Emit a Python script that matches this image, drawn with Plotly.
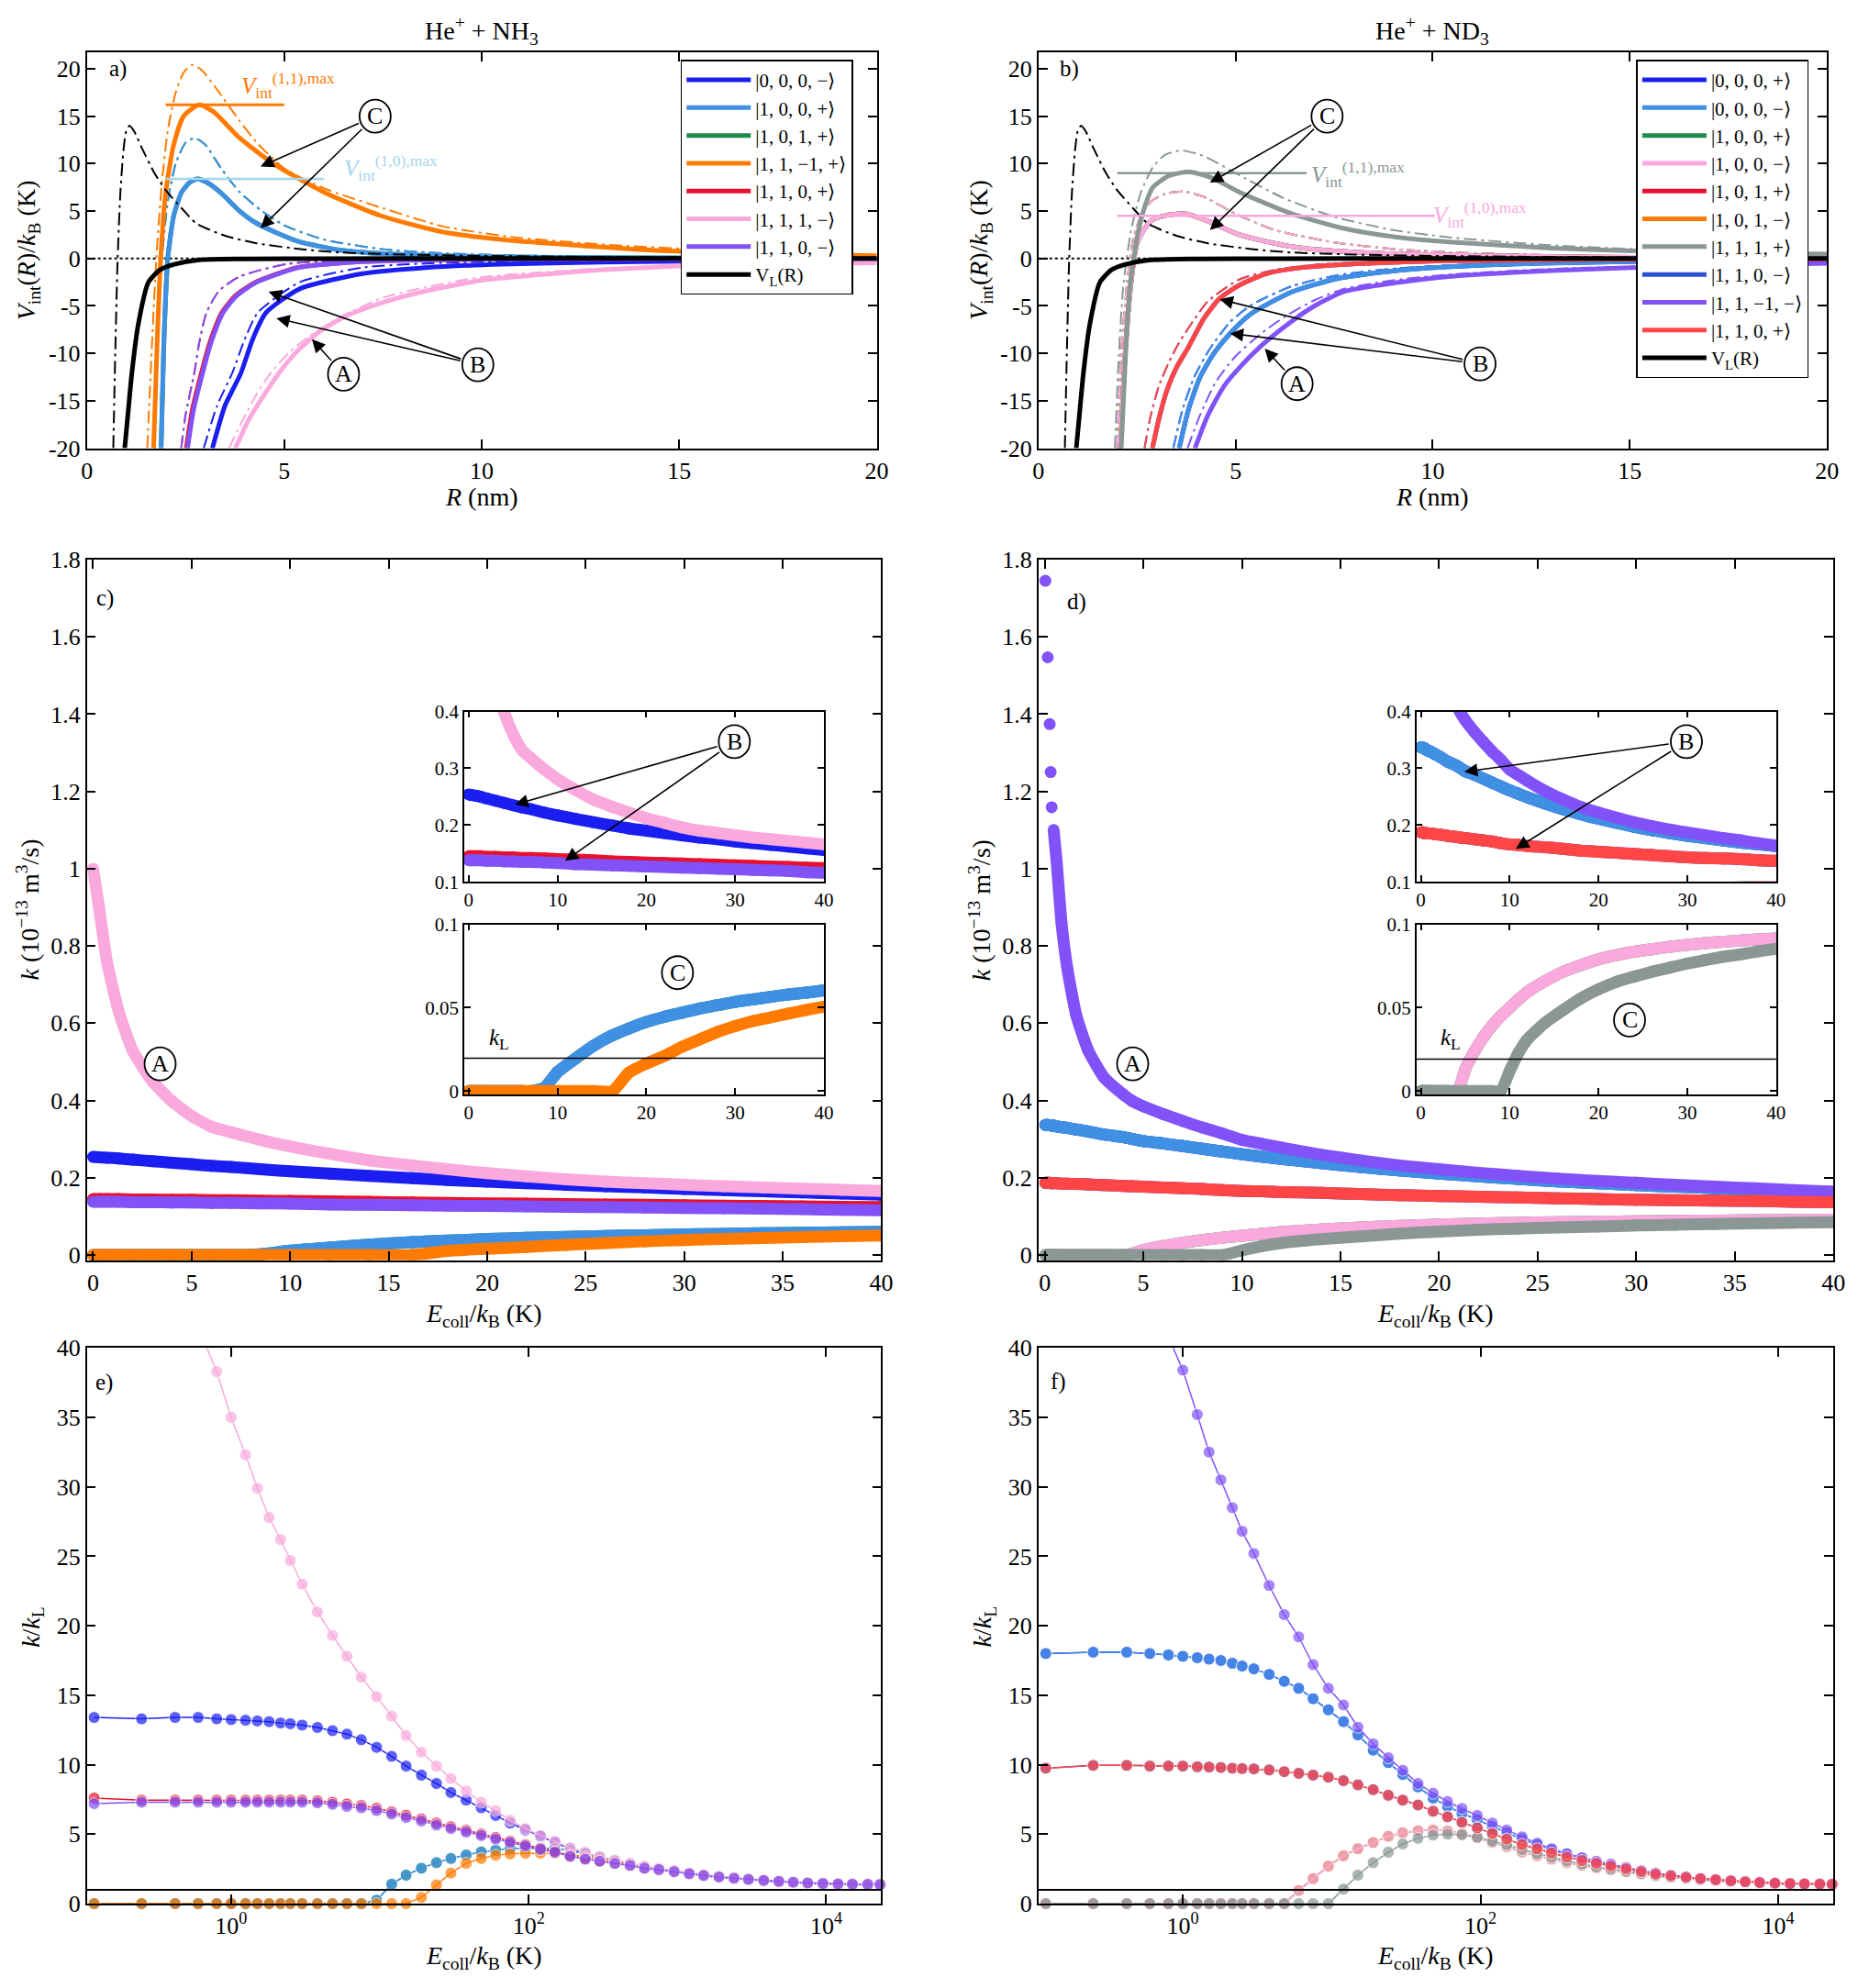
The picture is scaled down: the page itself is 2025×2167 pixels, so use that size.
import math
import plotly.graph_objects as go

W, H = 2025, 2167
SERIF = "Liberation Serif"

# ------------------------------------------------------------------
# (a) He+ + NH3 : V_int(R)/k_B (K) against R (nm); *_dd = dash-dot partner
# ------------------------------------------------------------------
VL_R = [0.96, 1.05, 1.14, 1.3, 1.56, 1.85, 2.19, 2.8, 4.0, 6.0, 10.0, 20.0]
VL_V = [-20, -16, -12.1, -7.0, -2.5, -1.2, -0.64, -0.16, -0.04, -0.01, 0.0, 0.0]
VLdd_R = [0.67, 0.72, 0.78, 0.85, 0.93, 1.0, 1.08, 1.2, 1.4, 1.7, 1.98, 2.4, 2.77, 3.5, 4.3,
          5.5, 6.4, 8.0, 10.0, 14.0, 20.0]
VLdd_V = [-20, -10, 0, 7, 11.5, 13.5, 14.0, 13.4, 11.6, 9.1, 7.3, 5.3, 3.7, 2.4, 1.6,
          0.95, 0.64, 0.42, 0.27, 0.14, 0.07]

a_blue_R = [3.18, 3.5, 3.9, 4.2, 4.54, 5.39, 6.98, 8.58, 10.5, 13, 16, 20]
a_blue_V = [-20, -15.5, -12.1, -8.5, -5.7, -3.2, -1.6, -0.96, -0.6, -0.38, -0.25, -0.18]
a_blue_dd_R = [2.96, 3.3, 3.68, 4.0, 4.33, 5.39, 6.98, 9, 12, 16, 20]
a_blue_dd_V = [-20, -15.5, -12.1, -8.5, -5.7, -2.5, -0.96, -0.45, -0.22, -0.12, -0.08]

a_lblue_R = [1.88, 1.95, 2.05, 2.2, 2.4, 2.6, 2.8, 3.05, 3.4, 3.87, 4.3, 5.35, 6.4, 7.5, 9, 11, 14, 20]
a_lblue_V = [-20, -9, 0, 4.5, 7.0, 8.0, 8.4, 8.0, 6.9, 5.0, 3.7, 1.8, 0.9, 0.5, 0.28, 0.15, 0.07, 0.03]
a_lblue_dd_R = [1.72, 1.8, 1.9, 2.05, 2.25, 2.5, 2.74, 3.0, 3.4, 3.87, 4.4, 5.0, 6.0, 7.45, 9, 11, 14, 20]
a_lblue_dd_V = [-20, -8, 0, 6, 10, 12.2, 12.7, 12.0, 9.5, 7.0, 5.1, 3.5, 2.0, 1.0, 0.55, 0.3, 0.15, 0.06]

a_orange_R = [1.69, 1.78, 1.87, 2.0, 2.2, 2.45, 2.84, 3.2, 3.87, 4.72, 6.0, 7.45, 9, 10.6, 12.5, 14.4, 17, 20]
a_orange_V = [-20, -9, 0, 7, 12, 15, 16.2, 15.5, 12.7, 10.0, 7.0, 4.5, 2.8, 1.95, 1.35, 0.85, 0.5, 0.3]
a_orange_dd_R = [1.53, 1.65, 1.76, 1.9, 2.05, 2.25, 2.45, 2.66, 2.9, 3.3, 3.87, 4.33, 5.0, 6.0, 7.5,
                 9, 10.7, 13, 16, 20]
a_orange_dd_V = [-20, -9, 0, 8, 13.5, 17.5, 19.6, 20.4, 19.9, 17.8, 14.5, 12.1, 9.5, 7.4, 5.3,
                 3.4, 2.3, 1.5, 0.85, 0.4]

a_purple_R = [2.55, 2.7, 2.93, 3.15, 3.45, 3.8, 4.3, 5.35, 6.5, 8, 10, 14, 20]
a_red_R = [2.52, 2.67, 2.9, 3.12, 3.42, 3.77, 4.27, 5.32, 6.47, 8, 10, 14, 20]
a_purple_V = [-20, -16, -12.1, -8.8, -5.7, -3.9, -2.5, -0.96, -0.45, -0.2, -0.08, -0.02, 0.0]
a_purple_dd_R = [2.39, 2.5, 2.72, 2.85, 3.03, 3.35, 3.87, 5.1, 7, 10, 20]
a_purple_dd_V = [-20, -16.5, -12.1, -8.8, -5.7, -3.4, -1.9, -0.55, -0.15, -0.05, 0.0]

a_pink_R = [3.76, 4.1, 4.5, 4.86, 5.3, 5.92, 6.6, 7.52, 8.5, 10, 11.5, 13, 15, 17.5, 20]
a_pink_V = [-20, -17, -14.3, -12.1, -9.9, -7.6, -6.0, -4.6, -3.5, -2.3, -1.7, -1.2, -0.8, -0.6, -0.45]
a_pink_dd_R = [3.6, 3.95, 4.3, 4.65, 5.1, 5.6, 6.4, 7.52, 8.5, 10, 11.5, 13, 15, 17.5, 20]
a_pink_dd_V = [-20, -17, -14.3, -12.1, -10, -8.3, -6.2, -4.1, -3.1, -1.95, -1.45, -1.05, -0.7, -0.5, -0.38]

a_vmax11 = 16.2   # V_int^(1,1),max
a_vmax10 = 8.4    # V_int^(1,0),max

# ------------------------------------------------------------------
# (b) He+ + ND3 potentials
# ------------------------------------------------------------------
b_gray_R = [2.1, 2.2, 2.32, 2.5, 2.7, 2.9, 3.3, 3.81, 4.4, 5.1, 6.4, 7.75, 9, 10.4, 13, 16, 20]
b_gray_V = [-20, -11, -3, 2.2, 5.5, 7.5, 8.7, 9.14, 8.5, 7.0, 4.76, 3.17, 2.3, 1.75, 1.1, 0.7, 0.45]
b_gray_dd_R = [1.94, 2.03, 2.15, 2.35, 2.6, 2.9, 3.2, 3.61, 4.2, 5.0, 6.2, 7.5, 9, 10.5, 13, 16, 20]
b_gray_dd_V = [-20, -11, -3, 3, 7, 9.6, 10.9, 11.4, 10.8, 9.0, 6.4, 4.4, 3.0, 2.2, 1.4, 0.85, 0.55]

b_pink_R = [2.08, 2.2, 2.35, 2.5, 2.7, 2.9, 3.3, 3.75, 4.3, 5.1, 6.4, 7.5, 9.1, 11, 14, 20]
b_pink_V = [-20, -10, -2.5, 1.6, 3.2, 4.1, 4.6, 4.7, 3.95, 2.5, 1.27, 0.8, 0.48, 0.3, 0.15, 0.06]
b_mid_dd_R = [2.0, 2.1, 2.25, 2.4, 2.6, 2.85, 3.2, 3.68, 4.2, 5.0, 6.0, 7.5, 9, 11, 14, 20]
b_mid_dd_V = [-20, -10, -2.5, 2.0, 4.5, 6.0, 6.8, 7.05, 6.5, 4.7, 3.0, 1.7, 1.0, 0.55, 0.28, 0.1]

b_red_R = [2.89, 3.05, 3.25, 3.5, 3.81, 4.2, 4.6, 5.1, 5.78, 6.6, 7.75, 10.4, 14, 20]
b_red_V = [-20, -17, -14, -11.5, -9.3, -6.3, -4.2, -2.8, -1.6, -1.0, -0.63, -0.25, -0.1, -0.04]
b_red_dd_R = [2.69, 2.85, 3.05, 3.3, 3.55, 3.81, 4.3, 5.1, 6.0, 7.1, 9, 12, 20]
b_red_dd_V = [-20, -16.5, -13.5, -11, -9, -7.3, -4.5, -2.2, -1.2, -0.63, -0.3, -0.12, -0.03]

b_lblue_R = [3.57, 3.8, 4.1, 4.45, 4.86, 5.4, 6.44, 7.6, 9.07, 11, 13, 16, 20]
b_lblue_V = [-20, -16, -12.5, -10, -7.9, -5.8, -3.5, -2.1, -1.27, -0.75, -0.48, -0.28, -0.17]
b_lblue_dd_R = [3.42, 3.65, 3.95, 4.35, 4.86, 5.4, 6.44, 7.6, 9.07, 11, 13, 16, 20]
b_lblue_dd_V = [-20, -16, -12.5, -9.5, -6.7, -4.9, -2.9, -1.75, -1.05, -0.62, -0.4, -0.23, -0.14]

b_purple_R = [3.97, 4.3, 4.7, 5.1, 5.65, 6.3, 7.0, 7.75, 9, 10.4, 13, 16, 20]
b_purple_V = [-20, -16.5, -13.5, -11.5, -9.2, -7.0, -5.0, -3.5, -2.6, -1.9, -1.27, -0.85, -0.5]
b_purple_dd_R = [3.78, 4.1, 4.5, 5.0, 5.65, 6.3, 7.0, 7.75, 9, 10.4, 13, 16, 20]
b_purple_dd_V = [-20, -16.5, -13, -10.3, -7.9, -6.0, -4.4, -3.2, -2.3, -1.7, -1.1, -0.75, -0.42]

b_vmax11 = 9.0
b_vmax10 = 4.5

# ------------------------------------------------------------------
# (c) NH3 rate coefficients k (1e-13 m^3/s) vs E_coll/k_B (K)
# ------------------------------------------------------------------
E_c = [0, 0.3, 0.7, 1.3, 2, 3, 4, 5, 6, 7,
       8.5, 10, 12, 14, 16.2, 18, 20, 22, 24, 26,
       28, 30, 32, 34, 36, 38, 40]
c_blue = [0.254, 0.253, 0.252, 0.25, 0.247, 0.243, 0.239, 0.235, 0.231, 0.228,
          0.222, 0.217, 0.211, 0.205, 0.199, 0.194, 0.19, 0.186, 0.182, 0.178,
          0.175, 0.171, 0.168, 0.165, 0.162, 0.159, 0.156]
c_lblue = [0, 0, 0, 0, 0, 0, 0, 0, 0, 0,
           0.002, 0.0115, 0.0195, 0.027, 0.0335, 0.0375, 0.0415, 0.0445, 0.047, 0.0495,
           0.0515, 0.0535, 0.055, 0.0565, 0.058, 0.059, 0.0604]
c_orange = [0, 0, 0, 0, 0, 0, 0, 0, 0, 0,
            0, 0, 0, 0, 0, 0.011, 0.0165, 0.021, 0.0265, 0.031,
            0.0355, 0.039, 0.042, 0.0442, 0.0465, 0.0487, 0.0506]
c_red = [0.145, 0.145, 0.145, 0.145, 0.144, 0.144, 0.143, 0.143, 0.142, 0.142,
         0.141, 0.14, 0.139, 0.138, 0.136, 0.135, 0.134, 0.133, 0.132, 0.131,
         0.13, 0.129, 0.128, 0.127, 0.126, 0.125, 0.124]
c_pink = [1.0, 0.9, 0.76, 0.63, 0.53, 0.45, 0.398, 0.36, 0.332, 0.318,
          0.298, 0.281, 0.262, 0.245, 0.232, 0.222, 0.212, 0.204, 0.196, 0.19,
          0.186, 0.182, 0.178, 0.175, 0.172, 0.169, 0.166]
c_purple = [0.138, 0.138, 0.138, 0.138, 0.137, 0.137, 0.136, 0.136, 0.135, 0.135,
            0.134, 0.133, 0.131, 0.13, 0.129, 0.128, 0.127, 0.126, 0.125, 0.124,
            0.123, 0.122, 0.121, 0.12, 0.119, 0.117, 0.116]
kL_c = 0.0197

# ------------------------------------------------------------------
# (d) ND3 rate coefficients
# ------------------------------------------------------------------
E_d = [0.03, 0.15, 0.25, 0.3, 0.35, 0.45, 0.6, 0.85, 1.15, 1.6,
       2.2, 3, 4, 4.4, 5, 6, 7, 8, 9, 10,
       11, 12, 14, 16, 18, 20, 22, 24, 26, 28,
       30, 32, 34, 36, 38, 40]
d_purple = [1.745, 1.547, 1.374, 1.25, 1.159, 1.1, 1.02, 0.86, 0.74, 0.62,
            0.53, 0.46, 0.415, 0.4, 0.385, 0.365, 0.347, 0.33, 0.315, 0.298,
            0.288, 0.278, 0.26, 0.245, 0.232, 0.222, 0.213, 0.205, 0.198, 0.192,
            0.187, 0.182, 0.177, 0.173, 0.168, 0.164]
d_lblue = [0.337, 0.337, 0.336, 0.336, 0.335, 0.335, 0.333, 0.331, 0.329, 0.325,
           0.32, 0.312, 0.305, 0.301, 0.295, 0.289, 0.282, 0.275, 0.268, 0.261,
           0.255, 0.249, 0.238, 0.228, 0.219, 0.211, 0.204, 0.197, 0.191, 0.186,
           0.181, 0.177, 0.173, 0.169, 0.166, 0.163]
d_red = [0.187, 0.187, 0.187, 0.186, 0.186, 0.186, 0.186, 0.185, 0.185, 0.184,
         0.183, 0.181, 0.179, 0.178, 0.177, 0.175, 0.173, 0.171, 0.168, 0.166,
         0.165, 0.163, 0.161, 0.158, 0.155, 0.153, 0.151, 0.149, 0.147, 0.145,
         0.143, 0.142, 0.141, 0.14, 0.138, 0.137]
d_pink = [0, 0, 0, 0, 0, 0, 0, 0, 0, 0,
          0, 0, 0, 0.003, 0.013, 0.0235, 0.032, 0.039, 0.045, 0.05,
          0.055, 0.0595, 0.066, 0.0715, 0.0755, 0.079, 0.0815, 0.0835, 0.085, 0.0865,
          0.0877, 0.0887, 0.0895, 0.0903, 0.091, 0.0915]
d_gray = [0, 0, 0, 0, 0, 0, 0, 0, 0, 0,
          0, 0, 0, 0, 0, 0, 0, 0, 0, 0.012,
          0.023, 0.031, 0.041, 0.0485, 0.0555, 0.061, 0.0655, 0.0686, 0.0715, 0.074,
          0.0765, 0.0785, 0.0805, 0.082, 0.0838, 0.0853]
kL_d = 0.0192

# ------------------------------------------------------------------
# (e), (f) k/k_L vs E_coll/k_B (K), log axis
# ------------------------------------------------------------------
E_ef = [0.12, 0.25, 0.42, 0.6, 0.8, 1.0, 1.25, 1.5, 1.8, 2.15,
        2.5, 3.0, 3.8, 4.8, 6.0, 7.5, 9.5, 12, 15, 19,
        24, 30, 38, 48, 60, 75, 95, 120, 150, 190,
        240, 300, 380, 480, 600, 750, 950, 1200, 1500, 1900,
        2400, 3000, 3800, 4800, 6000, 7500, 9500, 12000, 15000, 19000,
        23000]
e_blue = [13.4, 13.3, 13.4, 13.4, 13.3, 13.25, 13.2, 13.15, 13.1, 13.0,
          12.95, 12.85, 12.68, 12.45, 12.2, 11.8, 11.25, 10.6, 9.9, 9.25,
          8.65, 8.0, 7.45, 6.9, 6.35, 5.8, 5.3, 4.85, 4.4, 3.95,
          3.6, 3.3, 3.05, 2.85, 2.65, 2.5, 2.35, 2.15, 2.0, 1.9,
          1.8, 1.7, 1.63, 1.56, 1.5, 1.45, 1.41, 1.38, 1.36, 1.35,
          1.34]
e_lblue = [0, 0, 0, 0, 0, 0, 0, 0, 0, 0,
           0, 0, 0, 0, 0, 0, 0.25, 1.4, 2.05, 2.55,
           2.95, 3.25, 3.5, 3.72, 3.85, 3.95, 4.0, 4.0, 3.97, 3.82,
           3.6, 3.37, 3.12, 2.87, 2.65, 2.5, 2.35, 2.18, 2.04, 1.93,
           1.83, 1.74, 1.66, 1.59, 1.53, 1.48, 1.44, 1.41, 1.39, 1.37,
           1.36]
e_orange = [0, 0, 0, 0, 0, 0, 0, 0, 0, 0,
            0, 0, 0, 0, 0, 0, 0, 0, 0, 0.45,
            1.35, 2.2, 2.9, 3.25, 3.48, 3.58, 3.63, 3.64, 3.62, 3.52,
            3.4, 3.22, 3.05, 2.85, 2.6, 2.45, 2.3, 2.15, 2.03, 1.92,
            1.82, 1.73, 1.65, 1.58, 1.52, 1.47, 1.43, 1.4, 1.38, 1.37,
            1.36]
e_red = [7.6, 7.45, 7.45, 7.45, 7.45, 7.45, 7.45, 7.45, 7.45, 7.45,
         7.45, 7.45, 7.4, 7.3, 7.17, 7.06, 6.87, 6.6, 6.36, 6.1,
         5.8, 5.54, 5.28, 5.02, 4.77, 4.5, 4.25, 3.98, 3.76, 3.45,
         3.24, 3.08, 2.92, 2.77, 2.57, 2.46, 2.31, 2.16, 2.04, 1.93,
         1.84, 1.75, 1.67, 1.6, 1.54, 1.49, 1.45, 1.42, 1.4, 1.39,
         1.38]
e_pink = [None, None, None, 41.5, 38.3, 35.0, 32.3, 29.9, 27.8, 26.2,
          24.7, 23.0, 21.0, 19.3, 17.8, 16.3, 14.9, 13.5, 12.1, 10.9,
          9.9, 9.0, 8.1, 7.3, 6.7, 6.0, 5.4, 4.9, 4.5, 4.0,
          3.7, 3.35, 3.1, 2.9, 2.7, 2.55, 2.4, 2.2, 2.05, 1.95,
          1.85, 1.75, 1.67, 1.6, 1.53, 1.47, 1.43, 1.4, 1.38, 1.37,
          1.36]
e_purple = [7.2, 7.3, 7.3, 7.3, 7.3, 7.3, 7.3, 7.3, 7.3, 7.3,
            7.3, 7.3, 7.25, 7.15, 7.0, 6.9, 6.7, 6.45, 6.2, 5.95,
            5.65, 5.4, 5.15, 4.9, 4.65, 4.4, 4.15, 3.9, 3.7, 3.4,
            3.2, 3.05, 2.9, 2.75, 2.55, 2.45, 2.3, 2.15, 2.03, 1.92,
            1.83, 1.75, 1.67, 1.6, 1.54, 1.49, 1.45, 1.42, 1.4, 1.39,
            1.38]

f_lblue = [18.0, 18.1, 18.1, 18.0, 17.9, 17.8, 17.7, 17.6, 17.5, 17.3,
           17.1, 16.9, 16.5, 16.0, 15.5, 14.75, 13.95, 13.1, 12.15, 11.05,
           10.15, 9.3, 8.4, 7.6, 7.0, 6.5, 6.05, 5.55, 5.1, 4.65,
           4.25, 3.88, 3.55, 3.25, 3.0, 2.8, 2.57, 2.36, 2.19, 2.04,
           1.91, 1.8, 1.71, 1.63, 1.57, 1.51, 1.46, 1.43, 1.41, 1.4,
           1.39]
f_red = [9.75, 9.95, 9.95, 9.9, 9.9, 9.9, 9.85, 9.83, 9.8, 9.75,
         9.72, 9.7, 9.62, 9.5, 9.38, 9.25, 9.1, 8.85, 8.55, 8.2,
         7.8, 7.45, 7.1, 6.65, 6.25, 5.85, 5.45, 5.05, 4.65, 4.25,
         3.95, 3.65, 3.35, 3.1, 2.9, 2.7, 2.5, 2.3, 2.12, 2.0,
         1.9, 1.8, 1.72, 1.65, 1.58, 1.52, 1.48, 1.45, 1.43, 1.42,
         1.41]
f_pink = [0, 0, 0, 0, 0, 0, 0, 0, 0, 0,
          0, 0, 0, 0, 0.95, 1.8, 2.7, 3.45, 3.95, 4.4,
          4.85, 5.1, 5.25, 5.3, 5.23, 5.05, 4.75, 4.4, 4.1, 3.72,
          3.45, 3.2, 2.95, 2.75, 2.57, 2.42, 2.28, 2.12, 1.99, 1.88,
          1.79, 1.71, 1.64, 1.58, 1.52, 1.47, 1.43, 1.41, 1.39, 1.38,
          1.37]
f_gray = [0, 0, 0, 0, 0, 0, 0, 0, 0, 0,
          0, 0, 0, 0, 0, 0, 0, 1.05, 2.05, 2.95,
          3.7, 4.3, 4.7, 4.93, 5.0, 4.95, 4.78, 4.5, 4.25, 3.9,
          3.6, 3.35, 3.08, 2.85, 2.65, 2.5, 2.33, 2.17, 2.03, 1.92,
          1.82, 1.74, 1.66, 1.6, 1.54, 1.49, 1.45, 1.42, 1.4, 1.38,
          1.37]
f_purple = [None, None, None, None, 40.8, 38.4, 35.2, 32.5, 30.5, 28.5,
            26.8, 25.2, 22.9, 20.8, 19.2, 17.2, 15.5, 14.3, 12.7, 11.5,
            10.5, 9.6, 8.65, 7.95, 7.35, 6.85, 6.35, 5.8, 5.3, 4.8,
            4.35, 3.95, 3.6, 3.3, 3.05, 2.85, 2.6, 2.38, 2.2, 2.05,
            1.92, 1.8, 1.72, 1.64, 1.57, 1.52, 1.47, 1.43, 1.41, 1.4,
            1.39]
kL_ratio = 1.0

# colours
BLUE = "#1a1ef0"
BLUE2 = "#2a52d0"
LBLUE = "#3f90e2"
GREEN = "#1f8c4e"
ORANGE = "#ff7a00"
RED = "#e8112d"
LRED = "#ff4545"
PINK = "#f9a9dc"
PURPLE = "#8152f7"
GRAY = "#8a9795"
PALE = "#a5d5ef"
DD = "14px,5px,3px,5px"

AX = {"a": ("x", "y"), "b": ("x2", "y2"), "c": ("x3", "y3"), "d": ("x4", "y4"),
      "e": ("x5", "y5"), "f": ("x6", "y6"), "ct": ("x7", "y7"), "cb": ("x8", "y8"),
      "dt": ("x9", "y9"), "db": ("x10", "y10")}

fig = go.Figure()
shapes, annos = [], []


def curve(ax, x, y, color, width, dash=None, name=None, legend="legend", rank=1000):
    xa, ya = AX[ax]
    fig.add_trace(go.Scatter(
        x=x, y=y, mode="lines", xaxis=xa, yaxis=ya,
        line=dict(color=color, width=width, dash=dash, shape="spline", smoothing=0.6),
        name=name, showlegend=name is not None, legend=legend, legendrank=rank,
        hoverinfo="skip"))


def band(keys, x, y, color, start=0):
    # dense point series drawn as a thick band of dots
    for k in keys:
        xa, ya = AX[k]
        fig.add_trace(go.Scatter(
            x=x[start:], y=y[start:], mode="lines", xaxis=xa, yaxis=ya,
            line=dict(color=color, width=13, shape="spline", smoothing=0.5),
            showlegend=False, hoverinfo="skip"))
        fig.add_trace(go.Scatter(
            x=x, y=y, mode="markers", xaxis=xa, yaxis=ya,
            marker=dict(color=color, size=13), showlegend=False, hoverinfo="skip"))


def dots(ax, x, y, color):
    xa, ya = AX[ax]
    sizes = [0 if (v is None or v > 40) else 13 for v in y]
    fig.add_trace(go.Scatter(
        x=x, y=y, mode="lines+markers", xaxis=xa, yaxis=ya, cliponaxis=False,
        line=dict(color=color, width=1.5), marker=dict(color=color, size=sizes),
        showlegend=False, hoverinfo="skip"))


def circled(ax, x, y, letter, tips=()):
    xa, ya = AX[ax]
    shapes.append(dict(type="circle", xref=xa, yref=ya, xsizemode="pixel", ysizemode="pixel",
                       xanchor=x, yanchor=y, x0=-17, x1=17, y0=-18, y1=18,
                       line=dict(color="black", width=1.8), fillcolor="white", layer="above"))
    annos.append(dict(x=x, y=y, xref=xa, yref=ya, text=letter, showarrow=False,
                      xanchor="center", yanchor="middle",
                      font=dict(family=SERIF, size=26, color="black")))
    for tx, ty in tips:
        annos.append(dict(x=tx, y=ty, ax=x, ay=y, xref=xa, yref=ya, axref=xa, ayref=ya,
                          text="", showarrow=True, arrowhead=2, arrowsize=1.8,
                          arrowwidth=1.6, arrowcolor="black", startstandoff=18, standoff=0))


def label(ax, x, y, text, size=25, color="black"):
    xa, ya = AX[ax]
    annos.append(dict(x=x, y=y, xref=xa, yref=ya, text=text, showarrow=False,
                      xanchor="center", yanchor="middle",
                      font=dict(family=SERIF, size=size, color=color)))


# ---------------- panel a ----------------
a_states = [  # draw order; rank = legend position
    ("|1, 0, 1, +⟩", GREEN, a_lblue_R, a_lblue_V, a_lblue_dd_R, a_lblue_dd_V, 3),
    ("|0, 0, 0, −⟩", BLUE, a_blue_R, a_blue_V, a_blue_dd_R, a_blue_dd_V, 1),
    ("|1, 0, 0, +⟩", LBLUE, a_lblue_R, a_lblue_V, a_lblue_dd_R, a_lblue_dd_V, 2),
    ("|1, 1, −1, +⟩", ORANGE, a_orange_R, a_orange_V, a_orange_dd_R, a_orange_dd_V, 4),
    ("|1, 1, 0, +⟩", RED, a_red_R, a_purple_V, a_purple_dd_R, a_purple_dd_V, 5),
    ("|1, 1, 1, −⟩", PINK, a_pink_R, a_pink_V, a_pink_dd_R, a_pink_dd_V, 6),
    ("|1, 1, 0, −⟩", PURPLE, a_purple_R, a_purple_V, a_purple_dd_R, a_purple_dd_V, 7),
]
for name, col, r, v, rdd, vdd, rank in a_states:
    curve("a", rdd, vdd, col, 2, dash=DD)
    curve("a", r, v, col, 5, name=name, legend="legend", rank=rank)
curve("a", VLdd_R, VLdd_V, "black", 2, dash=DD)
curve("a", VL_R, VL_V, "black", 5, name="V<sub>L</sub>(R)", legend="legend", rank=8)

# ---------------- panel b ----------------
b_states = [
    ("|0, 0, 0, +⟩", BLUE, b_lblue_R, b_lblue_V, b_lblue_dd_R, b_lblue_dd_V, 1),
    ("|0, 0, 0, −⟩", LBLUE, b_lblue_R, b_lblue_V, b_lblue_dd_R, b_lblue_dd_V, 2),
    ("|1, 0, 1, +⟩", RED, b_pink_R, b_pink_V, b_mid_dd_R, b_mid_dd_V, 5),
    ("|1, 0, 1, −⟩", ORANGE, b_pink_R, b_pink_V, b_mid_dd_R, b_mid_dd_V, 6),
    ("|1, 0, 0, +⟩", GREEN, b_pink_R, b_pink_V, b_mid_dd_R, b_mid_dd_V, 3),
    ("|1, 0, 0, −⟩", PINK, b_pink_R, b_pink_V, b_mid_dd_R, b_mid_dd_V, 4),
    ("|1, 1, 1, +⟩", GRAY, b_gray_R, b_gray_V, b_gray_dd_R, b_gray_dd_V, 7),
    ("|1, 1, 0, −⟩", BLUE2, b_red_R, b_red_V, b_red_dd_R, b_red_dd_V, 8),
    ("|1, 1, −1, −⟩", PURPLE, b_purple_R, b_purple_V, b_purple_dd_R, b_purple_dd_V, 9),
    ("|1, 1, 0, +⟩", LRED, b_red_R, b_red_V, b_red_dd_R, b_red_dd_V, 10),
]
for name, col, r, v, rdd, vdd, rank in b_states:
    curve("b", rdd, vdd, col, 2, dash=DD)
for name, col, r, v, rdd, vdd, rank in b_states:
    curve("b", r, v, col, 5, name=name, legend="legend2", rank=rank)
curve("b", VLdd_R, VLdd_V, "black", 2, dash=DD)
curve("b", VL_R, VL_V, "black", 5, name="V<sub>L</sub>(R)", legend="legend2", rank=11)

# ---------------- panels c, d (+ insets) ----------------
cset = ("c", "ct", "cb")
band(cset, E_c, c_lblue, GREEN)
band(cset, E_c, c_blue, BLUE)
band(cset, E_c, c_lblue, LBLUE)
band(cset, E_c, c_orange, ORANGE)
band(cset, E_c, c_red, RED)
band(cset, E_c, c_pink, PINK)
band(cset, E_c, c_purple, PURPLE)

dset = ("d", "dt", "db")
band(dset, E_d, d_lblue, BLUE)
band(dset, E_d, d_lblue, LBLUE)
band(dset, E_d, d_red, BLUE2)
band(dset, E_d, d_pink, GREEN)
band(dset, E_d, d_pink, PINK)
band(dset, E_d, d_gray, GRAY)
band(dset, E_d, d_purple, PURPLE, start=5)
band(dset, E_d, d_red, LRED)

# ---------------- panels e, f ----------------
dots("e", E_ef, e_blue, BLUE)
dots("e", E_ef, e_lblue, GREEN)
dots("e", E_ef, e_lblue, LBLUE)
dots("e", E_ef, e_orange, ORANGE)
dots("e", E_ef, e_red, RED)
dots("e", E_ef, e_pink, PINK)
dots("e", E_ef, e_purple, PURPLE)

dots("f", E_ef, f_lblue, BLUE)
dots("f", E_ef, f_lblue, LBLUE)
dots("f", E_ef, f_red, BLUE2)
dots("f", E_ef, f_pink, GREEN)
dots("f", E_ef, f_pink, ORANGE)
dots("f", E_ef, f_pink, PINK)
dots("f", E_ef, f_gray, GRAY)
dots("f", E_ef, f_purple, PURPLE)
dots("f", E_ef, f_red, LRED)


# ---------------- axes ----------------
def axes(key, xpx, ypx, xr, yr, xt, yt, size=26, tl=10, xtype="linear", xtt=None, ytt=None):
    xa, ya = AX[key]
    common = dict(showline=True, linecolor="black", linewidth=1.6, mirror="ticks",
                  ticks="inside", ticklen=tl, tickwidth=1.6, tickcolor="black",
                  showgrid=False, zeroline=False,
                  tickfont=dict(family=SERIF, size=size, color="black"))
    fig.update_layout(**{
        "xaxis" + xa[1:]: dict(common, domain=[xpx[0] / W, xpx[1] / W], anchor=ya, range=xr,
                               type=xtype, tickmode="array", tickvals=xt, ticktext=xtt),
        "yaxis" + ya[1:]: dict(common, domain=[1 - ypx[1] / H, 1 - ypx[0] / H], anchor=xa,
                               range=yr, tickmode="array", tickvals=yt, ticktext=ytt)})


vt = [-20, -15, -10, -5, 0, 5, 10, 15, 20]
vtt = [str(v) if v >= 0 else "-" + str(-v) for v in vt]
axes("a", (88.5, 958), (44, 481), [0, 20], [-20, 21.7], [0, 5, 10, 15, 20], vt, ytt=vtt)
axes("b", (1136, 2004), (44, 481), [0, 20], [-20, 21.7], [0, 5, 10, 15, 20], vt, ytt=vtt)
kt = [0, 0.2, 0.4, 0.6, 0.8, 1, 1.2, 1.4, 1.6, 1.8]
et = [0, 5, 10, 15, 20, 25, 30, 35, 40]
axes("c", (88.5, 963), (604, 1378), [-0.32, 40], [-0.013, 1.8], et, kt)
axes("d", (1136, 2011), (604, 1378), [-0.32, 40], [-0.013, 1.8], et, kt)
lt = [1, 100, 10000]
ltt = ["10<sup>0</sup>", "10<sup>2</sup>", "10<sup>4</sup>"]
rt = [0, 5, 10, 15, 20, 25, 30, 35, 40]
axes("e", (88.5, 963), (1475, 2089), [-0.97, 4.37], [0, 40], lt, rt, xtype="log", xtt=ltt)
axes("f", (1136, 2011), (1475, 2089), [-0.97, 4.37], [0, 40], lt, rt, xtype="log", xtt=ltt)
it = [0, 10, 20, 30, 40]
axes("ct", (504, 900), (772, 960), [-0.5, 40], [0.1, 0.4], it, [0.1, 0.2, 0.3, 0.4], size=21, tl=7)
axes("cb", (504, 900), (1007, 1195), [-0.5, 40], [-0.002, 0.1], it, [0, 0.05, 0.1], size=21, tl=7)
axes("dt", (1552, 1948), (772, 960), [-0.5, 40], [0.1, 0.4], it, [0.1, 0.2, 0.3, 0.4], size=21, tl=7)
axes("db", (1552, 1948), (1007, 1195), [-0.5, 40], [-0.002, 0.1], it, [0, 0.05, 0.1], size=21, tl=7)

# ---------------- reference lines ----------------
for xa, ya in (AX["a"], AX["b"]):
    shapes.append(dict(type="line", xref=xa + " domain", yref=ya, x0=0, x1=1, y0=0, y1=0,
                       line=dict(color="black", width=1.8, dash="dot"), layer="below"))
for xa, ya in (AX["e"], AX["f"]):
    shapes.append(dict(type="line", xref=xa + " domain", yref=ya, x0=0, x1=1,
                       y0=kL_ratio, y1=kL_ratio, line=dict(color="black", width=2)))
for key, kl in (("cb", kL_c), ("db", kL_d)):
    xa, ya = AX[key]
    shapes.append(dict(type="line", xref=xa + " domain", yref=ya, x0=0, x1=1, y0=kl, y1=kl,
                       line=dict(color="black", width=1.6)))

# V_int max markers
shapes.append(dict(type="line", xref="x", yref="y", x0=2.0, x1=5.0, y0=a_vmax11, y1=a_vmax11,
                   line=dict(color=ORANGE, width=3)))
shapes.append(dict(type="line", xref="x", yref="y", x0=2.0, x1=6.0, y0=a_vmax10, y1=a_vmax10,
                   line=dict(color=PALE, width=2.5)))
shapes.append(dict(type="line", xref="x2", yref="y2", x0=2.0, x1=6.8, y0=b_vmax11, y1=b_vmax11,
                   line=dict(color=GRAY, width=2.5)))
shapes.append(dict(type="line", xref="x2", yref="y2", x0=2.0, x1=10.05, y0=b_vmax10, y1=b_vmax10,
                   line=dict(color=PINK, width=2.5)))
VMAX11 = "<i>V</i><sub>int</sub><sup>(1,1),max</sup>"
VMAX10 = "<i>V</i><sub>int</sub><sup>(1,0),max</sup>"
label("a", 5.1, 18.3, VMAX11, color=ORANGE)
label("a", 7.7, 9.6, VMAX10, color=PALE)
label("b", 8.1, 8.9, VMAX11, color=GRAY)
label("b", 11.2, 4.6, VMAX10, color=PINK)

# panel letters
label("a", 0.78, 20.0, "a)")
label("b", 0.78, 20.0, "b)")
label("c", 0.6, 1.70, "c)")
label("d", 1.6, 1.69, "d)")
label("e", math.log10(0.14), 37.5, "e)")
label("f", math.log10(0.145), 37.6, "f)")

# circled markers with arrows
circled("a", 7.3, 15.0, "C", [(4.4, 9.7), (4.4, 3.2)])
circled("a", 6.5, -12.2, "A", [(5.7, -8.5)])
circled("a", 9.9, -11.2, "B", [(4.6, -3.5), (4.8, -6.3)])
circled("b", 7.32, 15.0, "C", [(4.35, 8.0), (4.35, 3.0)])
circled("b", 6.56, -13.2, "A", [(5.74, -9.5)])
circled("b", 11.2, -11.1, "B", [(4.6, -4.3), (4.86, -7.9)])
circled("c", 3.4, 0.495, "A")
circled("d", 4.46, 0.495, "A")
circled("ct", 29.9, 0.347, "B", [(5.2, 0.236), (10.85, 0.137)])
circled("cb", 23.5, 0.071, "C")
circled("dt", 29.9, 0.347, "B", [(4.9, 0.294), (10.7, 0.158)])
circled("db", 23.5, 0.0426, "C")
label("cb", 3.4, 0.031, "<i>k</i><sub>L</sub>")
label("db", 3.4, 0.031, "<i>k</i><sub>L</sub>")


# titles and axis titles (paper pixels)
def ptext(x, y, text, size=28, angle=0):
    annos.append(dict(x=x / W, y=1 - y / H, xref="paper", yref="paper", text=text,
                      showarrow=False, textangle=angle, xanchor="center", yanchor="middle",
                      font=dict(family=SERIF, size=size, color="black")))


ptext(523, 20, "He<sup>+</sup> + NH<sub>3</sub>")
ptext(1570, 20, "He<sup>+</sup> + ND<sub>3</sub>")
RT = "<i>R</i> (nm)"
ET = "<i>E</i><sub>coll</sub>/<i>k</i><sub>B</sub> (K)"
ptext(523, 535, RT)
ptext(1570, 535, RT)
ptext(526, 1439, ET)
ptext(1573, 1439, ET)
ptext(526, 2148, ET)
ptext(1573, 2148, ET)
VT = "<i>V</i><sub>int</sub>(<i>R</i>)/<i>k</i><sub>B</sub> (K)"
KT = "<i>k</i> (10<sup>−13</sup> m<sup>3</sup>/s)"
RT2 = "<i>k</i>/<i>k</i><sub>L</sub>"
ptext(24, 262, VT, angle=-90)
ptext(1072, 262, VT, angle=-90)
ptext(24, 991, KT, angle=-90)
ptext(1072, 991, KT, angle=-90)
ptext(28, 1783, RT2, angle=-90)
ptext(1076, 1783, RT2, angle=-90)

leg = dict(xanchor="left", yanchor="top", bgcolor="white", bordercolor="black",
           borderwidth=1.6, font=dict(family=SERIF, size=21, color="black"),
           itemwidth=70, tracegroupgap=0)
fig.update_layout(
    width=W, height=H, margin=dict(l=0, r=0, t=0, b=0),
    paper_bgcolor="white", plot_bgcolor="white", hovermode=False, showlegend=True,
    legend=dict(leg, x=742 / W, y=1 - 52 / H),
    legend2=dict(leg, x=1794 / W, y=1 - 52 / H),
    shapes=shapes, annotations=annos)

fig.write_html("out.html", config={"displayModeBar": False},
               post_script="document.body.style.margin='0px';")
